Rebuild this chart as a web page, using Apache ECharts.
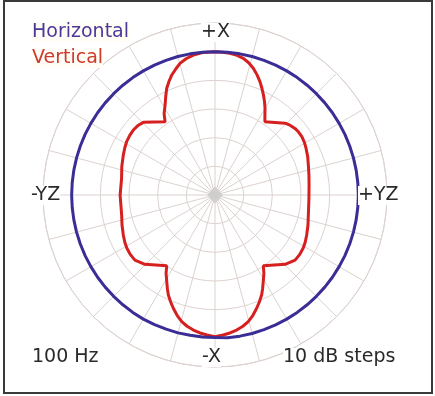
<!DOCTYPE html>
<html>
<head>
<meta charset="utf-8">
<script src="https://cdn.jsdelivr.net/npm/echarts@6/dist/echarts.min.js"></script>
<style>
  html, body { margin: 0; padding: 0; background: #ffffff; }
  #chart { position: absolute; left: 0; top: 0; width: 435px; height: 396px; }
  #frame { position: absolute; left: 3px; top: 0px; width: 426px; height: 390px;
           border: 2px solid #3a3a3a; pointer-events: none; }
</style>
</head>
<body>
<div id="chart"></div>
<div id="frame"></div>
<script>
// Polar response at 100 Hz, level in dB relative to on-axis (10 dB per ring).
// Angles run clockwise from +X (top).

// Horizontal plane: essentially omnidirectional
const horizontalAngles = [0, 5, 10, 15, 20, 25, 30, 35, 40, 45, 50, 55, 60, 65, 70, 75, 80, 85,
  90, 95, 100, 105, 110, 115, 120, 125, 130, 135, 140, 145, 150, 155, 160, 165, 170, 175,
  180, 185, 190, 195, 200, 205, 210, 215, 220, 225, 230, 235, 240, 245, 250, 255, 260, 265,
  270, 275, 280, 285, 290, 295, 300, 305, 310, 315, 320, 325, 330, 335, 340, 345, 350, 355, 360];
const horizontalDb = [0, 0, 0, 0, 0, 0, 0, 0, 0, 0, 0, 0, 0, 0, 0, 0, 0, 0,
  0, 0, 0, 0, 0, 0, 0, 0, 0, 0, 0, 0, 0, 0, 0, 0, 0, 0,
  -0.3, -0.3, -0.3, -0.2, -0.2, -0.1, 0, 0, 0, 0, 0, 0, 0, 0, 0, 0, 0, 0,
  0, 0, 0, 0, 0, 0, 0, 0, 0, 0, 0, 0, 0, 0, 0, 0, 0, 0, 0];

// Vertical plane: four-lobed pattern
const verticalAngles = [0, 3, 6, 9, 11.7, 14.3, 16.8, 19.3, 21.7, 23.8, 25.8, 28, 30, 32.5, 34.3,
  44.3, 47.3, 50.2, 53, 56.1, 59.5, 62.8, 67.5, 72.2, 78, 83.9,
  93, 102.1, 108, 113.6, 117.5, 121, 125, 129.1, 134.7,
  145.7, 148, 150.9, 153, 155, 157.5, 159.8, 162.5, 165.3, 168, 170.9, 173.8, 176.7, 180,
  183.3, 186.2, 189.1, 192, 194.7, 197.5, 200.2, 202.5, 205, 207, 209.1, 212, 214.3,
  225.3, 230.9, 235, 239, 242.5, 246.4, 252, 257.9,
  270, 280.1, 287, 293.6, 297.5, 301.1, 305, 308.5, 312, 315.4,
  325.7, 328, 331, 333.5, 335.6, 338, 340.2, 342.8, 345.1, 348, 351.2, 355, 360];
const verticalDb = [0, -0.1, -0.3, -0.7, -1.3, -2.4, -3.8, -5.6, -7.5, -9.4, -11.2, -13.2, -15.1, -17.6, -19.1,
  -15.0, -14.2, -13.7, -13.5, -13.5, -13.8, -14.3, -15.0, -15.8, -16.5, -17.0,
  -17.2, -16.7, -15.9, -15.1, -14.5, -14.1, -13.9, -14.0, -15.6,
  -20.1, -17.8, -15.4, -13.4, -11.5, -9.6, -7.9, -6.0, -4.3, -3.2, -2.3, -1.6, -1.1, -0.6,
  -1.1, -1.6, -2.3, -3.2, -4.3, -6.0, -7.9, -9.6, -11.5, -13.4, -15.4, -17.8, -20.1,
  -15.6, -14.0, -13.9, -14.1, -14.5, -15.1, -15.9, -16.7,
  -16.9, -16.9, -16.0, -15.1, -14.5, -14.0, -13.7, -13.6, -13.8, -14.4,
  -19.1, -16.5, -14.1, -11.5, -9.2, -7.2, -5.5, -3.9, -2.5, -1.4, -0.6, -0.1, 0];

// Radial scale: centre is -50 dB, outer ring +10 dB
const radiusMin = -50;
const radiusMax = 10;
const radiusStep = 10;

const pair = (angles, values) => angles.map((a, i) => [values[i], a]);

const gridColor = '#dcd2cf';
const font = '"DejaVu Sans", sans-serif';

const chart = echarts.init(document.getElementById('chart'), null, { renderer: 'canvas' });

function txt(text, opts) {
  return Object.assign({
    type: 'text',
    z: 100,
    style: Object.assign({
      text: text,
      font: '19px ' + font,
      fill: '#2a2a2a',
      verticalAlign: 'middle',
      backgroundColor: '#ffffff'
    }, opts.style || {})
  }, opts.pos);
}

chart.setOption({
  animation: false,
  backgroundColor: '#ffffff',
  polar: { center: [215, 195], radius: 172 },
  angleAxis: {
    type: 'value',
    min: 0, max: 360, interval: 15,
    startAngle: 90, clockwise: true,
    axisLine: { show: true, lineStyle: { color: gridColor, width: 1 } },
    axisTick: { show: false },
    axisLabel: { show: false },
    splitLine: { show: true, lineStyle: { color: gridColor, width: 1 } }
  },
  radiusAxis: {
    type: 'value',
    min: radiusMin, max: radiusMax, interval: radiusStep,
    axisLine: { show: false },
    axisTick: { show: false },
    axisLabel: { show: false },
    splitLine: { show: true, lineStyle: { color: gridColor, width: 1 } }
  },
  series: [
    {
      name: 'Origin',
      type: 'scatter',
      coordinateSystem: 'polar',
      data: [[radiusMin, 0]],
      symbol: 'diamond',
      symbolSize: [16, 17],
      itemStyle: { color: '#cbcbcb' },
      silent: true,
      z: 1
    },
    {
      name: 'Vertical',
      type: 'line',
      coordinateSystem: 'polar',
      data: pair(verticalAngles, verticalDb),
      showSymbol: false,
      lineStyle: { color: '#d61f1f', width: 3 },
      z: 3
    },
    {
      name: 'Horizontal',
      type: 'line',
      coordinateSystem: 'polar',
      data: pair(horizontalAngles, horizontalDb),
      showSymbol: false,
      lineStyle: { color: '#3a2d96', width: 3 },
      z: 4
    }
  ],
  graphic: [
    txt('Horizontal', { pos: { left: 32, top: 23 }, style: { fill: '#4a3a98', backgroundColor: '#fffdf6' } }),
    txt('Vertical', { pos: { left: 32, top: 49 }, style: { fill: '#cf3a2e', backgroundColor: '#fffdf6' } }),
    txt('+X', { pos: { left: 201, top: 23 } }),
    txt('-YZ', { pos: { left: 31, top: 186 } }),
    txt('+YZ', { pos: { left: 358, top: 186 } }),
    txt('-X', { pos: { left: 202, top: 348 } }),
    txt('100 Hz', { pos: { left: 32, top: 348 } }),
    txt('10 dB steps', { pos: { left: 283, top: 348 } })
  ]
});
</script>
</body>
</html>
